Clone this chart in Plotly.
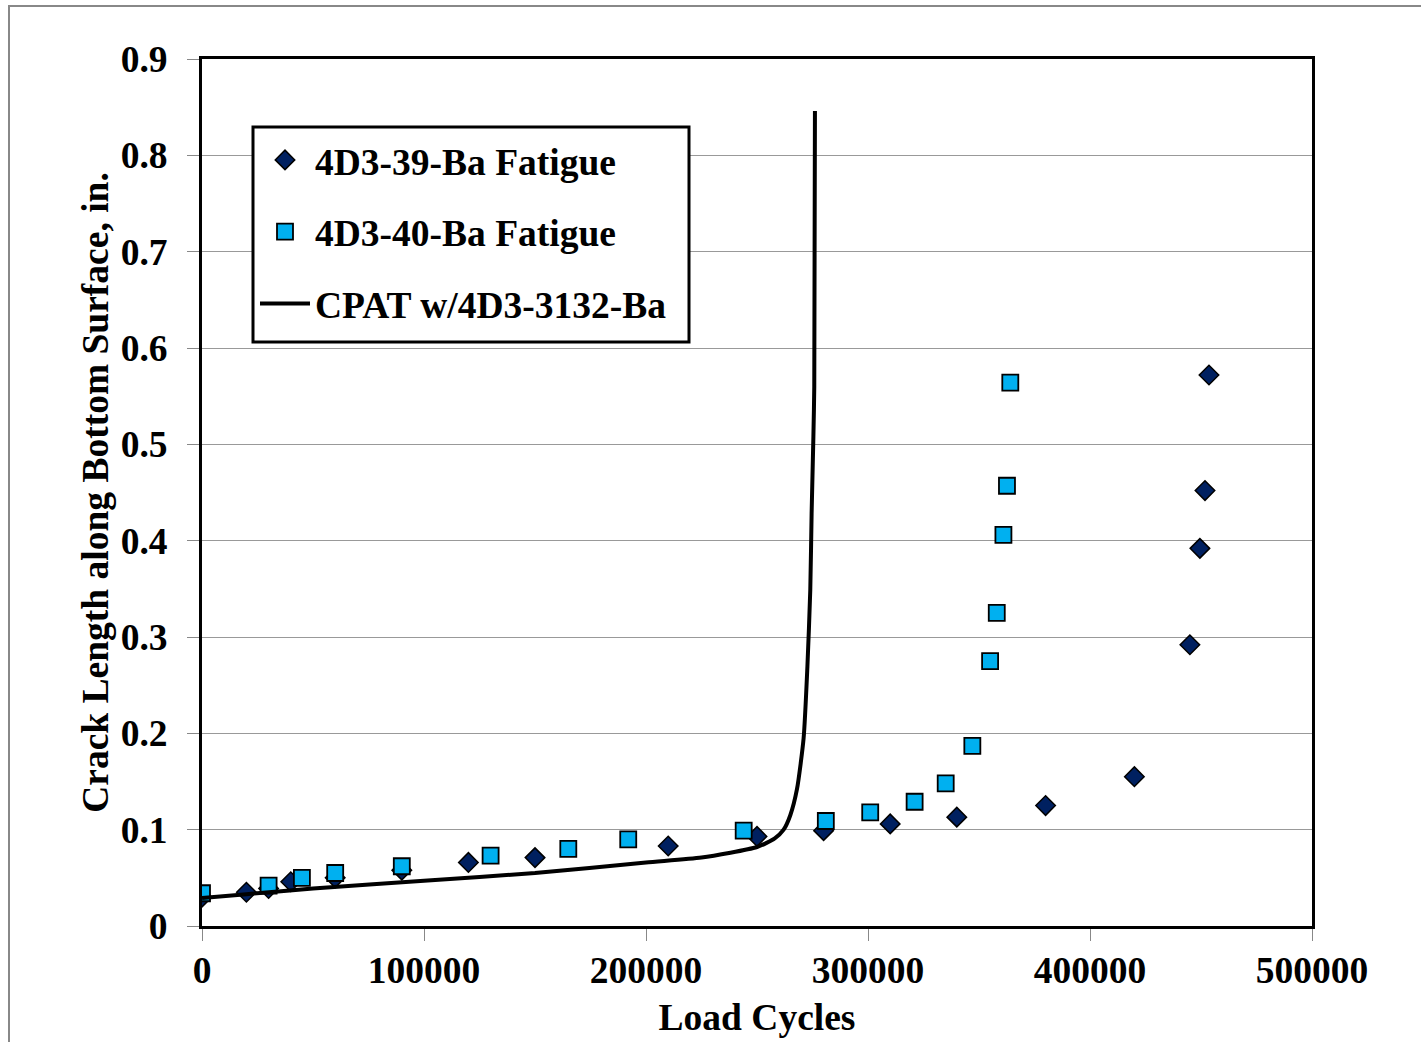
import plotly.graph_objects as go

# ---- data ----
s39_x = [0, 20000, 30000, 40000, 60000, 90000, 120000, 150000, 210000, 250000,
         280000, 310000, 340000, 380000, 420000, 445000, 449500, 451800, 453600]
s39_y = [0.030, 0.035, 0.039, 0.046, 0.050, 0.058, 0.066, 0.071, 0.083, 0.093,
         0.099, 0.106, 0.113, 0.125, 0.155, 0.292, 0.392, 0.452, 0.572]

s40_x = [0, 30000, 45000, 60000, 90000, 130000, 165000, 192000, 244000, 281000,
         301000, 321000, 335000, 347000, 355000, 358000, 361000, 362600, 364100]
s40_y = [0.034, 0.042, 0.050, 0.055, 0.062, 0.073, 0.080, 0.090, 0.099, 0.109,
         0.118, 0.129, 0.148, 0.187, 0.275, 0.325, 0.406, 0.457, 0.564]

cpat_x = [0, 20000, 50000, 100000, 150000, 200000, 225000, 250000, 258000, 262000,
          265000, 268000, 271000, 272700, 274000, 274600, 275400, 275800, 276100]
cpat_y = [0.029, 0.033, 0.039, 0.047, 0.055, 0.066, 0.071, 0.082, 0.091, 0.100,
          0.115, 0.142, 0.195, 0.269, 0.349, 0.428, 0.508, 0.560, 0.846]

x_ticks = [0, 100000, 200000, 300000, 400000, 500000]
y_ticks = [0, 0.1, 0.2, 0.3, 0.4, 0.5, 0.6, 0.7, 0.8, 0.9]

FONT = "Liberation Serif"
FS = 37.5

# plot-area geometry in pixels (for converting to paper coordinates)
L, R, T, B = 202, 1312, 59, 926
PW, PH = R - L, B - T


def px(x):
    return (x - L) / PW


def py(y):
    return (B - y) / PH


fig = go.Figure()
fig.add_trace(go.Scatter(
    x=s39_x, y=s39_y, mode="markers", name="4D3-39-Ba Fatigue", legendgroup="a",
    marker=dict(symbol="diamond", size=15, color="#002060",
                line=dict(color="black", width=1.5))))
fig.add_trace(go.Scatter(
    x=s40_x, y=s40_y, mode="markers", name="4D3-40-Ba Fatigue", legendgroup="b",
    marker=dict(symbol="square", size=16, color="#00B0F0",
                line=dict(color="black", width=1.8))))
fig.add_trace(go.Scatter(
    x=cpat_x, y=cpat_y, mode="lines", name="CPAT w/4D3-3132-Ba", legendgroup="c",
    line=dict(color="black", width=4, shape="spline", smoothing=0.6)))

fig.update_layout(
    width=1421, height=1042,
    margin=dict(l=L, r=1421 - R, t=T, b=1042 - B, autoexpand=False),
    paper_bgcolor="white", plot_bgcolor="white",
    font=dict(family=FONT, size=FS, color="black", weight="bold"),
    showlegend=True,
    legend=dict(x=px(255), y=py(129), xanchor="left", yanchor="top",
                bgcolor="rgba(0,0,0,0)", borderwidth=0,
                traceorder="grouped", tracegroupgap=20, itemwidth=50,
                font=dict(family=FONT, size=FS, color="black", weight="bold")),
    xaxis=dict(range=[0, 500000], tickvals=x_ticks,
               ticktext=[str(v) for v in x_ticks], automargin=False,
               showgrid=False, zeroline=False,
               showline=True, linecolor="black", linewidth=3, mirror=True,
               ticks="outside", ticklen=12, tickcolor="#888", tickwidth=1,
               ticklabelstandoff=-3,
               title=dict(text="Load Cycles", standoff=14,
                          font=dict(family=FONT, size=FS, weight="bold"))),
    yaxis=dict(range=[0, 0.9], tickvals=y_ticks,
               ticktext=["0" if v == 0 else f"{v:.1f}" for v in y_ticks],
               automargin=False,
               showgrid=True, gridcolor="#999", gridwidth=1, zeroline=False,
               showline=True, linecolor="black", linewidth=3, mirror=True,
               ticks="outside", ticklen=12, tickcolor="#888", tickwidth=1,
               ticklabelstandoff=12,
               title=dict(text="Crack Length along Bottom Surface, in.", standoff=1,
                          font=dict(family=FONT, size=FS, weight="bold"))),
    shapes=[
        # outer chart frame
        dict(type="rect", xref="paper", yref="paper",
             x0=px(9), x1=1.3, y0=-0.3, y1=py(6),
             line=dict(color="#888", width=2), layer="below"),
        # legend box
        dict(type="rect", xref="paper", yref="paper",
             x0=px(253), x1=px(689), y0=py(342), y1=py(127),
             fillcolor="white", line=dict(color="black", width=3), layer="above"),
    ],
)

fig.write_html("out.html")
